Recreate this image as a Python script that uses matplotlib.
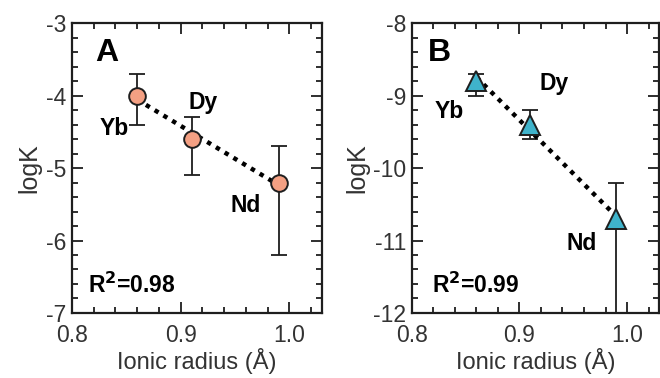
import numpy as np
import matplotlib
matplotlib.use('Agg')
import matplotlib.pyplot as plt
from matplotlib.ticker import MultipleLocator, FormatStrFormatter

plt.rcParams['font.family'] = ['Liberation Sans', 'DejaVu Sans']
plt.rcParams['axes.unicode_minus'] = False

# ionic radii (Å) for Yb, Dy, Nd
elements = ['Yb', 'Dy', 'Nd']
radius = [0.86, 0.91, 0.99]

# panel A: logK with asymmetric error bars
logk_a = [-4.0, -4.6, -5.2]
err_a_low = [0.4, 0.5, 1.0]
err_a_high = [0.3, 0.3, 0.5]
r2_a = '0.98'

# panel B
logk_b = [-8.8, -9.4, -10.7]
err_b_low = [0.2, 0.2, 1.4]
err_b_high = [0.1, 0.2, 0.5]
r2_b = '0.99'

salmon = '#F4A083'
cyan = '#3FB3CB'
ink = '#1e1e1e'


def style_axes(ax, ylo, yhi):
    ax.set_xlim(0.8, 1.03)
    ax.set_ylim(ylo, yhi)
    ax.xaxis.set_major_locator(MultipleLocator(0.1))
    ax.xaxis.set_minor_locator(MultipleLocator(0.02))
    ax.yaxis.set_major_locator(MultipleLocator(1))
    ax.yaxis.set_minor_locator(MultipleLocator(0.2))
    ax.xaxis.set_major_formatter(FormatStrFormatter('%.1f'))
    ax.yaxis.set_major_formatter(FormatStrFormatter('%d'))
    ax.tick_params(which='both', direction='in', top=True, right=True,
                   color=ink, width=1.3)
    ax.tick_params(which='major', length=8, labelsize=16.5, labelcolor='#333333')
    ax.tick_params(which='minor', length=4.5)
    ax.tick_params(axis='x', which='major', pad=8)
    ax.tick_params(axis='y', which='major', pad=4)
    for s in ax.spines.values():
        s.set_linewidth(1.6)
        s.set_color(ink)
    ax.set_xlabel('Ionic radius (Å)', fontsize=17, color='#333333', labelpad=1)
    ax.set_ylabel('logK', fontsize=18, color='#333333', labelpad=3)


def draw_panel(ax, y, lo, hi, marker, color, msize):
    ax.errorbar(radius, y, yerr=[lo, hi], fmt='none', ecolor=ink,
                elinewidth=1.3, capsize=6, capthick=1.3, zorder=2)
    # least-squares trend line through the three points
    k, b = np.polyfit(radius, y, 1)
    xs = np.array([min(radius), max(radius)])
    ax.plot(xs, k * xs + b, color='black', lw=3.2,
            linestyle=(0, (1, 1.3)), dash_capstyle='butt', zorder=2.5)
    ax.plot(radius, y, linestyle='none', marker=marker, ms=msize,
            mfc=color, mec=ink, mew=1.4, zorder=3)


fig = plt.figure(figsize=(6.6, 3.78), dpi=100)
ax_a = fig.add_axes([0.109, 0.172, 0.379, 0.767])
ax_b = fig.add_axes([0.624, 0.172, 0.375, 0.767])

style_axes(ax_a, -7, -3)
style_axes(ax_b, -12, -8)

draw_panel(ax_a, logk_a, err_a_low, err_a_high, 'o', salmon, 12)
draw_panel(ax_b, logk_b, err_b_low, err_b_high, '^', cyan, 14)

# panel letters
ax_a.text(0.821, -3.41, 'A', fontsize=23, fontweight='bold', ha='left', va='center')
ax_b.text(0.815, -8.41, 'B', fontsize=23, fontweight='bold', ha='left', va='center')

# element labels
lab = dict(fontsize=16.5, fontweight='bold', ha='center', va='baseline')
for name, (x, y) in zip(elements, [(0.839, -4.54), (0.921, -4.18), (0.96, -5.6)]):
    ax_a.text(x, y, name, **lab)
for name, (x, y) in zip(elements, [(0.835, -9.31), (0.932, -8.92), (0.958, -11.13)]):
    ax_b.text(x, y, name, **lab)

ax_a.text(0.815, -6.72, r'R$^{\mathbf{2}}$=' + r2_a, fontsize=16.5, fontweight='bold',
          ha='left', va='baseline')
ax_b.text(0.819, -11.72, r'R$^{\mathbf{2}}$=' + r2_b, fontsize=16.5, fontweight='bold',
          ha='left', va='baseline')

fig.savefig('out.png', dpi=100)
